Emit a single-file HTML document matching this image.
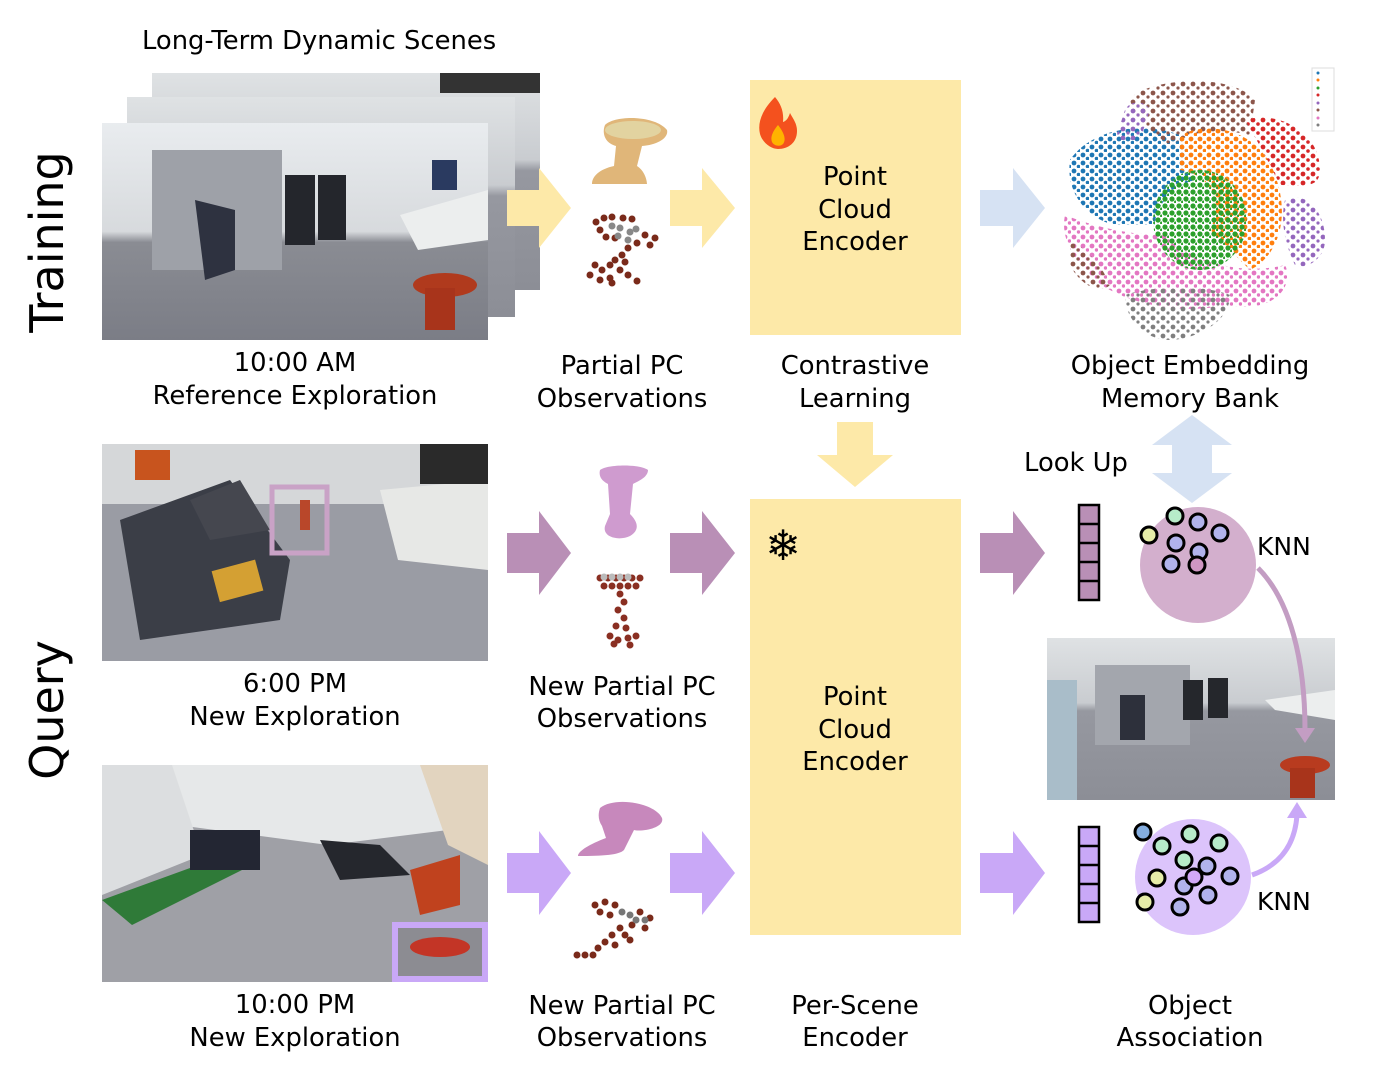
<!DOCTYPE html>
<html><head><meta charset="utf-8"><style>
html,body{margin:0;padding:0;background:#fff;}
svg{display:block;}
text{font-family:"DejaVu Sans","Liberation Sans",sans-serif;fill:#000;}
</style></head><body>
<svg width="1384" height="1080" viewBox="0 0 1384 1080" xmlns="http://www.w3.org/2000/svg">
<defs>
<linearGradient id="wall" x1="0" y1="0" x2="0" y2="1"><stop offset="0" stop-color="#e9ecef"/><stop offset="0.5" stop-color="#d7dadd"/><stop offset="0.55" stop-color="#8a8c93"/><stop offset="1" stop-color="#7b7d86"/></linearGradient>
<linearGradient id="wall2" x1="0" y1="0" x2="0" y2="1"><stop offset="0" stop-color="#dfe2e4"/><stop offset="0.4" stop-color="#c9ccd0"/><stop offset="0.45" stop-color="#9698a0"/><stop offset="1" stop-color="#8c8e96"/></linearGradient>
<pattern id="pb" width="9" height="8" patternUnits="userSpaceOnUse"><circle cx="3" cy="3" r="2.4" fill="#1f77b4"/><circle cx="7.5" cy="6.5" r="1.8" fill="#1f77b4"/></pattern>
<pattern id="po" width="9" height="8" patternUnits="userSpaceOnUse"><circle cx="3" cy="3" r="2.4" fill="#ff7f0e"/><circle cx="7.5" cy="6.5" r="1.8" fill="#ff7f0e"/></pattern>
<pattern id="pg" width="7" height="7" patternUnits="userSpaceOnUse"><circle cx="3" cy="3" r="2.6" fill="#2ca02c"/><circle cx="6.5" cy="6" r="1.5" fill="#2ca02c"/></pattern>
<pattern id="pr" width="10" height="9" patternUnits="userSpaceOnUse"><circle cx="3" cy="3" r="2.4" fill="#d62728"/><circle cx="8" cy="7" r="1.8" fill="#d62728"/></pattern>
<pattern id="pp" width="10" height="9" patternUnits="userSpaceOnUse"><circle cx="3" cy="3" r="2.4" fill="#9467bd"/><circle cx="8" cy="7" r="1.6" fill="#9467bd"/></pattern>
<pattern id="pbr" width="10" height="9" patternUnits="userSpaceOnUse"><circle cx="3" cy="3" r="2.4" fill="#8c564b"/><circle cx="8" cy="7" r="1.6" fill="#8c564b"/></pattern>
<pattern id="ppk" width="9" height="9" patternUnits="userSpaceOnUse"><circle cx="3" cy="3" r="2.4" fill="#e377c2"/><circle cx="7.5" cy="7" r="1.7" fill="#e377c2"/></pattern>
<pattern id="pgy" width="10" height="9" patternUnits="userSpaceOnUse"><circle cx="3" cy="3" r="2.4" fill="#7f7f7f"/><circle cx="8" cy="7" r="1.6" fill="#7f7f7f"/></pattern>
</defs>

<text x="142" y="49" font-size="25.8">Long-Term Dynamic Scenes</text>
<text transform="translate(63,242) rotate(-90)" font-size="46" text-anchor="middle">Training</text>
<text transform="translate(63,710) rotate(-90)" font-size="46" text-anchor="middle">Query</text>

<!-- stacked photos -->
<rect x="152" y="73" width="388" height="217" fill="url(#wall2)"/>
<rect x="440" y="73" width="100" height="20" fill="#333"/>
<rect x="127" y="97" width="388" height="220" fill="url(#wall2)"/>
<rect x="102" y="123" width="386" height="217" fill="url(#wall)"/>
<rect x="152" y="150" width="130" height="120" fill="#9ea1a8"/>
<path d="M195 200 l40 10 l0 60 l-30 10 z" fill="#2e3240"/>
<path d="M285 175 h30 v70 h-30 z M318 175 h28 v65 h-28z" fill="#24262c"/>
<path d="M400 215 l88 -25 v50 l-70 10z" fill="#eceeee"/>
<ellipse cx="445" cy="285" rx="32" ry="12" fill="#b03a1d"/>
<rect x="425" y="288" width="30" height="42" fill="#a8341b"/>
<path d="M432 160 h25 v30 h-25z" fill="#2a3a60"/>

<!-- photo 2 -->
<rect x="102" y="444" width="386" height="217" fill="#9a9ca4"/>
<rect x="102" y="444" width="386" height="60" fill="#d5d7d9"/>
<path d="M120 520 l110 -40 l60 80 l-10 60 l-140 20z" fill="#3b3e47"/>
<path d="M190 500 l50 -20 l30 50 l-60 10z" fill="#45474f"/>
<rect x="215" y="565" width="45" height="32" fill="#d4a033" transform="rotate(-15 237 581)"/>
<path d="M380 490 l108 -10 v90 l-90 -10z" fill="#e7e8e6"/>
<rect x="135" y="450" width="35" height="30" fill="#c8541e"/>
<rect x="272" y="487" width="55" height="66" fill="none" stroke="#c9a2c6" stroke-width="5"/>
<rect x="300" y="500" width="10" height="30" fill="#b9472a"/>
<rect x="420" y="444" width="68" height="40" fill="#2a2a2a"/>

<!-- photo 3 -->
<rect x="102" y="765" width="386" height="217" fill="#9fa0a6"/>
<path d="M102 765 h386 v60 l-160 20 l-226 -30z" fill="#e6e8e9"/>
<path d="M102 765 h70 l30 90 l-100 40z" fill="#dcdee0"/>
<path d="M102 900 l110 -40 l30 10 l-110 55z" fill="#2f7a38"/>
<path d="M190 830 h70 v40 h-70z" fill="#232633"/>
<path d="M320 840 l60 5 l30 30 l-70 5z" fill="#25272d"/>
<path d="M410 870 l50 -15 v50 l-40 10z" fill="#c0421e"/>
<path d="M420 765 h68 v100 l-40 -20z" fill="#e2d4bf"/>
<rect x="395" y="925" width="90" height="54" fill="#8c8c92" stroke="#c9a8f7" stroke-width="6"/>
<ellipse cx="440" cy="947" rx="30" ry="10" fill="#c33526"/>

<!-- captions -->
<g font-size="25.8" text-anchor="middle">
<text x="295" y="371">10:00 AM</text><text x="295" y="404">Reference Exploration</text>
<text x="295" y="692">6:00 PM</text><text x="295" y="725">New Exploration</text>
<text x="295" y="1013">10:00 PM</text><text x="295" y="1046">New Exploration</text>
<text x="622" y="374">Partial PC</text><text x="622" y="407">Observations</text>
<text x="622" y="695">New Partial PC</text><text x="622" y="727">Observations</text>
<text x="622" y="1014">New Partial PC</text><text x="622" y="1046">Observations</text>
<text x="855" y="374">Contrastive</text><text x="855" y="407">Learning</text>
<text x="1190" y="374">Object Embedding</text><text x="1190" y="407">Memory Bank</text>
<text x="855" y="1014">Per-Scene</text><text x="855" y="1046">Encoder</text>
<text x="1190" y="1014">Object</text><text x="1190" y="1046">Association</text>
<text x="1076" y="471">Look Up</text>
</g>

<!-- arrows -->
<g>
<path d="M507 190 h32 v-22 l32 40 l-32 40 v-22 h-32z" fill="#fde9a8"/>
<path d="M670 190 h32 v-22 l33 40 l-33 40 v-22 h-32z" fill="#fde9a8"/>
<path d="M980 190 h33 v-22 l32 40 l-32 40 v-22 h-33z" fill="#d6e2f3"/>
<path d="M507 533 h32 v-22 l32 42 l-32 42 v-22 h-32z" fill="#b98fb6"/>
<path d="M670 533 h32 v-22 l33 42 l-33 42 v-22 h-32z" fill="#b98fb6"/>
<path d="M980 533 h33 v-22 l32 42 l-32 42 v-22 h-33z" fill="#b98fb6"/>
<path d="M507 853 h32 v-22 l32 42 l-32 42 v-22 h-32z" fill="#c9a8f7"/>
<path d="M670 853 h32 v-22 l33 42 l-33 42 v-22 h-32z" fill="#c9a8f7"/>
<path d="M980 853 h33 v-22 l32 42 l-32 42 v-22 h-33z" fill="#c9a8f7"/>
<path d="M837 422 h36 v33 h20 l-38 32 l-38 -32 h20z" fill="#fde9a8"/>
<path d="M1192 415 l40 30 h-20 v28 h20 l-40 30 l-40 -30 h20 v-28 h-20z" fill="#d6e2f3"/>
</g>

<!-- encoders -->
<rect x="750" y="80" width="211" height="255" fill="#fde9a8"/>
<rect x="750" y="499" width="211" height="436" fill="#fde9a8"/>
<g font-size="25.8" text-anchor="middle">
<text x="855" y="185">Point</text><text x="855" y="218">Cloud</text><text x="855" y="250">Encoder</text>
<text x="855" y="705">Point</text><text x="855" y="738">Cloud</text><text x="855" y="770">Encoder</text>
</g>
<path d="M775 97 c-12 12 -18 25 -15 37 c3 10 12 15 18 15 c10 0 19 -6 19 -18 c0 -8 -4 -12 -7 -18 c-2 6 -4 8 -7 9 c1 -10 -2 -18 -8 -25z" fill="#f4511e"/>
<path d="M778 125 c-5 6 -8 12 -6 17 c2 4 8 5 11 2 c3 -4 2 -10 -5 -19z" fill="#ffb300"/>
<text x="783" y="560" font-size="42" text-anchor="middle">❄</text>

<!-- stool shapes -->
<path d="M605 125 c10 -10 50 -10 62 5 c2 8 -10 15 -25 16 l-5 20 c8 5 10 15 10 18 h-55 c0 -8 8 -15 22 -18 l2 -20 c-12 -3 -14 -14 -11 -21z" fill="#e0b679"/>
<ellipse cx="633" cy="130" rx="28" ry="9" fill="#e2d3a0"/>
<path d="M600 470 c8 -6 40 -6 48 0 c0 8 -12 12 -15 14 l-3 30 c8 8 10 16 0 22 c-10 5 -28 2 -25 -10 l5 -12 l-2 -30 c-4 -2 -10 -6 -8 -14z" fill="#cf9bcf"/>
<path d="M600 808 c15 -12 55 -5 62 10 c3 10 -20 14 -28 12 l-10 20 c-5 5 -20 6 -46 6 c0 -5 12 -12 28 -18 l-4 -12 c-4 -6 -4 -12 -2 -18z" fill="#c788bc"/>

<!-- point clouds -->
<g fill="#7a2a1a">
<circle cx="596" cy="222" r="3.5"/><circle cx="604" cy="218" r="3.5"/><circle cx="612" cy="217" r="3.5"/><circle cx="623" cy="218" r="3.5"/><circle cx="632" cy="219" r="3.5"/><circle cx="600" cy="230" r="3.5"/><circle cx="606" cy="237" r="3.5"/><circle cx="615" cy="238" r="3.5"/><circle cx="645" cy="235" r="3.5"/><circle cx="655" cy="238" r="3.5"/><circle cx="637" cy="243" r="3.5"/><circle cx="650" cy="245" r="3.5"/><circle cx="628" cy="248" r="3.5"/><circle cx="622" cy="255" r="3.5"/><circle cx="615" cy="260" r="3.5"/><circle cx="625" cy="262" r="3.5"/><circle cx="610" cy="265" r="3.5"/><circle cx="620" cy="270" r="3.5"/><circle cx="595" cy="265" r="3.5"/><circle cx="602" cy="270" r="3.5"/><circle cx="590" cy="275" r="3.5"/><circle cx="600" cy="280" r="3.5"/><circle cx="610" cy="278" r="3.5"/><circle cx="628" cy="275" r="3.5"/><circle cx="637" cy="281" r="3.5"/><circle cx="612" cy="283" r="3.5"/>
</g>
<g fill="#888"><circle cx="612" cy="226" r="3.5"/><circle cx="620" cy="228" r="3.5"/><circle cx="630" cy="232" r="3.5"/><circle cx="618" cy="236" r="3.5"/><circle cx="636" cy="229" r="3.5"/><circle cx="628" cy="240" r="3.5"/></g>
<g fill="#8a2f22">
<circle cx="600" cy="578" r="3.5"/><circle cx="608" cy="578" r="3.5"/><circle cx="616" cy="578" r="3.5"/><circle cx="624" cy="578" r="3.5"/><circle cx="632" cy="578" r="3.5"/><circle cx="640" cy="578" r="3.5"/><circle cx="604" cy="586" r="3.5"/><circle cx="612" cy="586" r="3.5"/><circle cx="620" cy="586" r="3.5"/><circle cx="628" cy="586" r="3.5"/><circle cx="636" cy="586" r="3.5"/><circle cx="620" cy="594" r="3.5"/><circle cx="624" cy="602" r="3.5"/><circle cx="618" cy="610" r="3.5"/><circle cx="624" cy="618" r="3.5"/><circle cx="616" cy="626" r="3.5"/><circle cx="626" cy="628" r="3.5"/><circle cx="610" cy="636" r="3.5"/><circle cx="618" cy="640" r="3.5"/><circle cx="628" cy="638" r="3.5"/><circle cx="636" cy="636" r="3.5"/><circle cx="614" cy="644" r="3.5"/><circle cx="630" cy="645" r="3.5"/>
</g>
<g fill="#bbb"><circle cx="604" cy="577" r="3.5"/><circle cx="612" cy="577" r="3.5"/><circle cx="620" cy="577" r="3.5"/><circle cx="628" cy="577" r="3.5"/></g>
<g fill="#7a2a1a">
<circle cx="595" cy="905" r="3.5"/><circle cx="605" cy="902" r="3.5"/><circle cx="615" cy="905" r="3.5"/><circle cx="600" cy="912" r="3.5"/><circle cx="610" cy="915" r="3.5"/><circle cx="640" cy="912" r="3.5"/><circle cx="650" cy="918" r="3.5"/><circle cx="645" cy="928" r="3.5"/><circle cx="632" cy="925" r="3.5"/><circle cx="620" cy="928" r="3.5"/><circle cx="612" cy="935" r="3.5"/><circle cx="605" cy="942" r="3.5"/><circle cx="615" cy="945" r="3.5"/><circle cx="598" cy="948" r="3.5"/><circle cx="630" cy="940" r="3.5"/><circle cx="585" cy="955" r="3.5"/><circle cx="577" cy="955" r="3.5"/><circle cx="593" cy="955" r="3.5"/><circle cx="625" cy="935" r="3.5"/>
</g>
<g fill="#777"><circle cx="622" cy="912" r="3.5"/><circle cx="630" cy="915" r="3.5"/><circle cx="636" cy="920" r="3.5"/><circle cx="645" cy="920" r="3.5"/></g>

<!-- scatter -->
<path d="M1070 160 c20 -30 70 -40 110 -25 l15 45 c-20 5 -40 25 -40 45 l-40 0 c-25 -5 -50 -30 -45 -65z" fill="url(#pb)"/>
<path d="M1130 100 c10 -20 100 -30 125 0 l-5 35 c-20 -5 -40 -5 -60 0 l-20 10 c-15 -10 -35 -25 -40 -45z" fill="url(#pbr)"/>
<path d="M1180 135 c30 -15 80 -5 95 40 c15 40 5 80 -25 95 l-40 -40 c15 -30 0 -55 -30 -60z" fill="url(#po)"/>
<path d="M1245 120 c30 -10 75 10 75 50 c0 20 -20 15 -40 15 c-10 -20 -20 -40 -35 -65z" fill="url(#pr)"/>
<path d="M1285 200 c20 -10 40 10 40 40 c0 20 -20 30 -30 25 c-10 -20 -15 -45 -10 -65z" fill="url(#pp)"/>
<path d="M1125 110 c5 -10 20 -10 25 0 l-10 30 l-25 0z" fill="url(#pp)"/>
<path d="M1065 215 c25 10 60 20 100 20 c30 30 80 40 120 30 c10 20 -10 50 -60 40 c-40 10 -100 0 -130 -25 c-20 -20 -35 -40 -30 -65z" fill="url(#ppk)"/>
<path d="M1070 240 c10 5 30 20 40 45 c-10 10 -30 0 -40 -20z" fill="url(#pbr)"/>
<path d="M1125 295 c30 -10 80 -10 105 0 c0 30 -40 45 -60 45 c-25 0 -45 -20 -45 -45z" fill="url(#pgy)"/>
<ellipse cx="1200" cy="220" rx="47" ry="50" fill="url(#pg)"/>
<rect x="1312" y="68" width="22" height="63" fill="#fff" stroke="#ddd" stroke-width="1"/>
<g><circle cx="1318" cy="73" r="1.5" fill="#1f77b4"/><circle cx="1318" cy="80" r="1.5" fill="#ff7f0e"/><circle cx="1318" cy="88" r="1.5" fill="#2ca02c"/><circle cx="1318" cy="95" r="1.5" fill="#d62728"/><circle cx="1318" cy="103" r="1.5" fill="#9467bd"/><circle cx="1318" cy="110" r="1.5" fill="#8c564b"/><circle cx="1318" cy="118" r="1.5" fill="#e377c2"/><circle cx="1318" cy="125" r="1.5" fill="#7f7f7f"/></g>

<!-- vectors -->
<g stroke="#000" stroke-width="2.5">
<rect x="1079" y="505" width="20" height="95" fill="#b98fb6"/>
<line x1="1079" y1="524" x2="1099" y2="524"/><line x1="1079" y1="543" x2="1099" y2="543"/><line x1="1079" y1="562" x2="1099" y2="562"/><line x1="1079" y1="581" x2="1099" y2="581"/>
<rect x="1079" y="827" width="20" height="95" fill="#c9a8f7"/>
<line x1="1079" y1="846" x2="1099" y2="846"/><line x1="1079" y1="865" x2="1099" y2="865"/><line x1="1079" y1="884" x2="1099" y2="884"/><line x1="1079" y1="903" x2="1099" y2="903"/>
</g>
<circle cx="1198" cy="565" r="58" fill="#d3afcd"/>
<circle cx="1193" cy="877" r="58" fill="#dcc4fb"/>
<g stroke="#000" stroke-width="3">
<circle cx="1175" cy="516" r="8" fill="#b7ebc9"/><circle cx="1149" cy="535" r="8" fill="#e6eda8"/><circle cx="1198" cy="522" r="8" fill="#b1b3ec"/><circle cx="1220" cy="533" r="8" fill="#b1b3ec"/><circle cx="1176" cy="543" r="8" fill="#b1b3ec"/><circle cx="1199" cy="552" r="8" fill="#b1b3ec"/><circle cx="1171" cy="564" r="8" fill="#b1b3ec"/><circle cx="1197" cy="565" r="8" fill="#cf96c2"/>
<circle cx="1143" cy="832" r="8" fill="#85aee0"/><circle cx="1162" cy="846" r="8" fill="#b7ebc9"/><circle cx="1190" cy="834" r="8" fill="#b7ebc9"/><circle cx="1219" cy="843" r="8" fill="#b7ebc9"/><circle cx="1184" cy="860" r="8" fill="#b7ebc9"/><circle cx="1207" cy="866" r="8" fill="#b1b3ec"/><circle cx="1230" cy="876" r="8" fill="#b1b3ec"/><circle cx="1157" cy="878" r="8" fill="#e6eda8"/><circle cx="1184" cy="886" r="8" fill="#b1b3ec"/><circle cx="1194" cy="877" r="8" fill="#d2a8f8"/><circle cx="1208" cy="895" r="8" fill="#b1b3ec"/><circle cx="1145" cy="902" r="8" fill="#e6eda8"/><circle cx="1180" cy="907" r="8" fill="#b1b3ec"/>
</g>
<text x="1257" y="555" font-size="25">KNN</text>
<text x="1257" y="910" font-size="25">KNN</text>

<!-- right photo -->
<rect x="1047" y="638" width="288" height="162" fill="url(#wall2)"/>
<rect x="1095" y="665" width="95" height="80" fill="#a3a6ad"/>
<path d="M1120 695 h25 v45 h-25z" fill="#2d303b"/>
<path d="M1183 680 h20 v40 h-20z M1208 678 h20 v40 h-20z" fill="#25272c"/>
<path d="M1265 700 l70 -10 v30 l-60 -10z" fill="#eceeee"/>
<rect x="1047" y="680" width="30" height="120" fill="#a9bdc9"/>
<ellipse cx="1305" cy="765" rx="25" ry="9" fill="#b83b1f"/>
<rect x="1290" y="768" width="25" height="30" fill="#a8341b"/>

<!-- curved arrows -->
<path d="M1258 568 C1290 600 1305 660 1305 730" fill="none" stroke="#c39dc3" stroke-width="5"/>
<path d="M1295 728 l10 15 l10 -15z" fill="#c39dc3"/>
<path d="M1252 875 C1280 865 1295 845 1297 815" fill="none" stroke="#c9a8f7" stroke-width="5"/>
<path d="M1287 818 l10 -16 l10 16z" fill="#c9a8f7"/>
</svg>
</body></html>
